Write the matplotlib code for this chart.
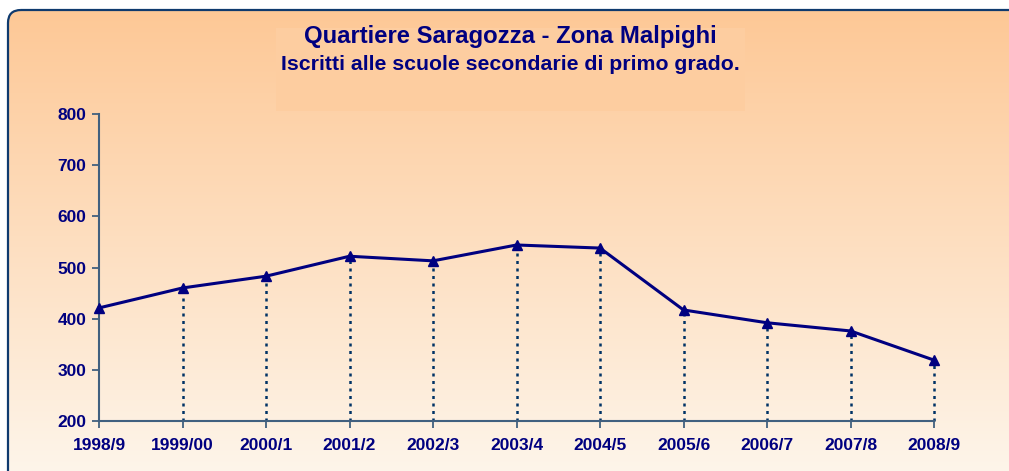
import numpy as np
import matplotlib
matplotlib.use("Agg")
import matplotlib.pyplot as plt
from matplotlib.patches import FancyBboxPatch, Rectangle

categories = ["1998/9", "1999/00", "2000/1", "2001/2", "2002/3", "2003/4",
              "2004/5", "2005/6", "2006/7", "2007/8", "2008/9"]
iscritti = [421, 460, 483, 522, 513, 544, 538, 417, 392, 376, 319]
yticks = [200, 300, 400, 500, 600, 700, 800]

title = "Quartiere Saragozza - Zona Malpighi"
subtitle = "Iscritti alle scuole secondarie di primo grado."

W, H = 1009, 471
fig = plt.figure(figsize=(W / 100, H / 100), dpi=100)
fig.patch.set_facecolor("white")

# background with gradient inside rounded frame
bg = fig.add_axes([0, 0, 1, 1])
bg.set_xlim(0, W)
bg.set_ylim(H, 0)
bg.axis("off")
top = np.array([253, 200, 150]) / 255
bot = np.array([254, 245, 234]) / 255
t = np.linspace(0, 1, 256)[:, None]
grad = top[None, None, :] * (1 - t[..., None]) + bot[None, None, :] * t[..., None]
grad = np.repeat(grad, 2, axis=1)
box_xy = (8, 10)
box_w, box_h = W + 60, H + 40
frame = FancyBboxPatch(box_xy, box_w, box_h,
                       boxstyle="round,pad=0,rounding_size=13",
                       facecolor="none", edgecolor="#0F3A6E", linewidth=1.6,
                       zorder=3)
bg.add_patch(frame)
im = bg.imshow(grad, extent=(8, W + 68, H + 2, 10), aspect="auto", zorder=1)
clip = FancyBboxPatch(box_xy, box_w, box_h,
                      boxstyle="round,pad=0,rounding_size=13",
                      facecolor="none", edgecolor="none", transform=bg.transData)
bg.add_patch(clip)
im.set_clip_path(clip)
bg.add_patch(Rectangle((276, 28), 469, 83, facecolor=(253/255, 205/255, 160/255),
                       edgecolor="none", zorder=2))

bg.text(W / 2 + 6, 37, title, ha="center", va="center", fontsize=17.2,
        fontweight="bold", color="#000080", family="Liberation Sans", zorder=4)
bg.text(W / 2 + 6, 65, subtitle, ha="center", va="center", fontsize=15.3,
        fontweight="bold", color="#000080", family="Liberation Sans", zorder=4)

# main axes
ax = fig.add_axes([99 / W, (H - 421) / H, (934 - 99) / W, (421 - 114) / H])
ax.patch.set_alpha(0)
x = np.arange(len(categories))
ax.vlines(x[1:], 200, np.array(iscritti[1:]), colors="#003366",
          linestyles=(0, (1.2, 1.8)), linewidth=1.8, zorder=2, clip_on=False)
ax.plot(x, iscritti, color="#000080", linewidth=2.2, marker="^",
        markersize=7.5, zorder=3, clip_on=False)
ax.set_xlim(0, 10)
ax.set_ylim(200, 800)
ax.set_yticks(yticks)
ax.set_xticks(x)
ax.set_xticklabels(categories)
for s in ["top", "right"]:
    ax.spines[s].set_visible(False)
for s in ["left", "bottom"]:
    ax.spines[s].set_color("#41607F")
    ax.spines[s].set_linewidth(1.5)
ax.tick_params(axis="both", colors="#41607F", width=1.3, length=5,
               labelcolor="#000080", labelsize=12.5)
ax.tick_params(axis="x", pad=7)
ax.tick_params(axis="y", pad=4)
for lab in ax.get_xticklabels() + ax.get_yticklabels():
    lab.set_fontweight("bold")
    lab.set_family("Liberation Sans")

fig.savefig("out.png", dpi=100)
